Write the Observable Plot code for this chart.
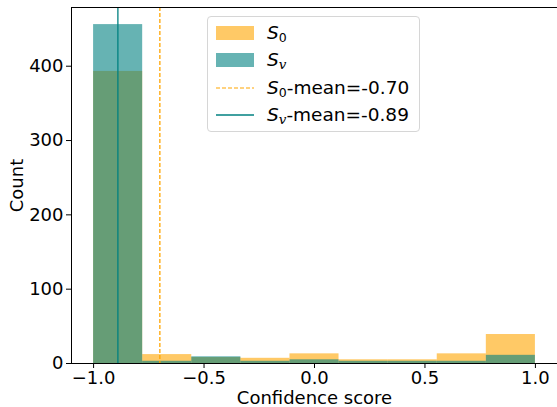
<!DOCTYPE html>
<html>
<head>
<meta charset="utf-8">
<script src="https://cdn.jsdelivr.net/npm/d3@7"></script>
<script src="https://cdn.jsdelivr.net/npm/@observablehq/plot@0.6"></script>
<style>
  html, body { margin: 0; padding: 0; background: #fff; }
  #wrap { position: relative; width: 557px; height: 407px; font-family: "DejaVu Sans", sans-serif; }
  #wrap > svg { position: absolute; left: 0; top: 0; font-size: 18px !important; font-family: "DejaVu Sans", sans-serif !important; }
  #legend { position: absolute; left: 207px; top: 16px; width: 213px; height: 116px;
    border: 1px solid #d6d6d6; border-radius: 4px; background: rgba(255,255,255,0.8); box-sizing: border-box; }
  .row { position: absolute; left: 0; height: 26px; width: 100%; }
  .sw { position: absolute; left: 8px; top: 0; }
  .lbl { position: absolute; left: 59px; top: 0; font-size: 18.5px; line-height: 26px; color: #000; white-space: nowrap; }
  .lbl i { font-style: oblique; }
  .lbl sub { font-size: 12.5px; vertical-align: -3px; line-height: 0; }
  .lbl sub.v { font-family: "DejaVu Serif", serif; font-style: italic; font-size: 13.5px; }
</style>
</head>
<body>
<div id="wrap"></div>
<script>
// Histogram bin edges (9 equal bins from -1 to 1)
const binEdges = [-1, -0.7778, -0.5556, -0.3333, -0.1111, 0.1111, 0.3333, 0.5556, 0.7778, 1];
// Counts per bin
const s0Counts = [393, 12, 8, 7, 13, 5, 5, 13, 39];
const svCounts = [456, 3, 9, 3, 5, 3, 3, 3, 11];
// Means
const s0Mean = -0.70;
const svMean = -0.89;
// Ticks
const xTicks = [-1, -0.5, 0, 0.5, 1];
const yTicks = [0, 100, 200, 300, 400];

const orange = "#FFA500";
const teal = "#008080";

const s0Rows = s0Counts.map((c, i) => ({x1: binEdges[i], x2: binEdges[i + 1], y: c}));
const svRows = svCounts.map((c, i) => ({x1: binEdges[i], x2: binEdges[i + 1], y: c}));

const fmt = d => d.toFixed(1).replace("-", "\u2212");

const chart = Plot.plot({
  width: 557,
  height: 407,
  marginLeft: 71,
  marginRight: 0,
  marginTop: 7,
  marginBottom: 44,
  style: {fontFamily: "DejaVu Sans, sans-serif", fontSize: "18px", color: "#000", background: "transparent"},
  x: {domain: [-1.1, 1.1], ticks: xTicks, tickFormat: fmt, tickSize: 5, tickPadding: 3,
      label: "Confidence score", labelAnchor: "center", labelOffset: 40, labelArrow: "none"},
  y: {domain: [0, 479], ticks: yTicks, tickSize: 5, tickPadding: 3,
      label: "Count", labelAnchor: "center", labelOffset: 61, labelArrow: "none"},
  marks: [
    Plot.rectY(s0Rows, {x1: "x1", x2: "x2", y: "y", fill: orange, fillOpacity: 0.6}),
    Plot.rectY(svRows, {x1: "x1", x2: "x2", y: "y", fill: teal, fillOpacity: 0.6}),
    Plot.ruleX([s0Mean], {stroke: orange, strokeWidth: 1.3, strokeDasharray: "4,2"}),
    Plot.ruleX([svMean], {stroke: teal, strokeWidth: 1.3}),
    Plot.frame({stroke: "#000", strokeWidth: 1})
  ]
});

const wrap = document.getElementById("wrap");
wrap.appendChild(chart);

const patch = c => `<svg class="sw" width="38" height="26"><rect x="0" y="6" width="38" height="14" fill="${c}" fill-opacity="0.6"/></svg>`;
const line = (c, dash, w) => `<svg class="sw" width="38" height="26"><line x1="0" x2="38" y1="13" y2="13" stroke="${c}" stroke-width="${w}" ${dash ? 'stroke-dasharray="4,2"' : ''}/></svg>`;

const legend = document.createElement("div");
legend.id = "legend";
legend.innerHTML = `
  <div class="row" style="top:3px">${patch(orange)}<div class="lbl"><i>S</i><sub>0</sub></div></div>
  <div class="row" style="top:30px">${patch(teal)}<div class="lbl"><i>S</i><sub class="v">v</sub></div></div>
  <div class="row" style="top:58px">${line(orange, true, 1.2)}<div class="lbl"><i>S</i><sub>0</sub>-mean=-0.70</div></div>
  <div class="row" style="top:85px">${line(teal, false, 1.5)}<div class="lbl"><i>S</i><sub class="v">v</sub>-mean=-0.89</div></div>`;
wrap.appendChild(legend);
</script>
</body>
</html>
